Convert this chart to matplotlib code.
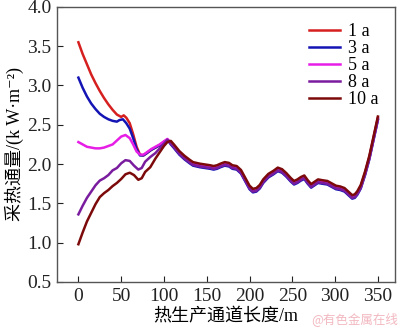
import matplotlib
matplotlib.use("Agg")
import matplotlib.pyplot as plt

SERIF = ["Liberation Serif", "DejaVu Serif"]
MIXED = ["Liberation Serif", "Noto Sans CJK SC", "DejaVu Sans"]
CJK = ["Noto Sans CJK SC", "Liberation Serif"]

# early section, one list per service year (channel length in m, flux in kW/m2)
x_1a = [0, 5, 10, 15, 20, 25, 30, 35, 40, 45, 50, 53, 56, 60, 64, 68, 72, 76, 80, 85, 90, 95, 100, 104]
y_1a = [3.55, 3.40, 3.27, 3.14, 3.03, 2.93, 2.84, 2.76, 2.69, 2.63, 2.60, 2.62, 2.59, 2.52, 2.38, 2.22,
        2.12, 2.11, 2.14, 2.18, 2.21, 2.24, 2.28, 2.31]
x_3a = [0, 5, 10, 15, 20, 25, 30, 35, 40, 45, 48, 52, 56, 60, 64, 68, 72, 76, 80, 85, 90, 95, 100, 104]
y_3a = [3.10, 2.97, 2.86, 2.77, 2.70, 2.64, 2.60, 2.57, 2.55, 2.54, 2.56, 2.57, 2.52, 2.45, 2.33, 2.19,
        2.11, 2.11, 2.14, 2.18, 2.21, 2.24, 2.28, 2.31]
x_5a = [0, 5, 10, 15, 20, 25, 30, 35, 40, 45, 50, 55, 60, 64, 68, 72, 76, 80, 85, 90, 95, 100, 104]
y_5a = [2.28, 2.25, 2.22, 2.21, 2.20, 2.20, 2.21, 2.23, 2.25, 2.30, 2.35, 2.37, 2.33, 2.25, 2.16, 2.12,
        2.12, 2.15, 2.19, 2.22, 2.25, 2.29, 2.32]
x_8a = [0, 5, 10, 15, 20, 25, 30, 35, 40, 45, 50, 55, 60, 65, 70, 74, 78, 84, 90, 95, 100, 104]
y_8a = [1.36, 1.47, 1.57, 1.65, 1.73, 1.79, 1.82, 1.86, 1.92, 1.95, 2.01, 2.05, 2.04, 1.98, 1.93, 1.95,
        2.03, 2.09, 2.14, 2.20, 2.26, 2.31]
x_10a = [0, 5, 10, 15, 20, 25, 30, 35, 40, 45, 50, 55, 60, 65, 70, 74, 78, 84, 90, 95, 100, 104]
y_10a = [0.98, 1.13, 1.27, 1.38, 1.49, 1.58, 1.63, 1.67, 1.72, 1.76, 1.81, 1.87, 1.89, 1.86, 1.80, 1.82,
         1.90, 1.96, 2.07, 2.15, 2.23, 2.28]

# downstream section where all years run together
x_tail = [108, 112, 118, 124, 130, 134, 138, 142, 148, 154, 158, 162, 166, 171, 176, 180, 185, 190, 195,
          200, 204, 208, 212, 216, 222, 228, 233, 238, 243, 248, 252, 256, 260, 264, 268, 272, 276, 280,
          285, 291, 296, 301, 306, 311, 316, 320, 323, 326, 330, 335, 340, 345, 350]
y_tail = [2.27, 2.22, 2.14, 2.08, 2.03, 2.00, 1.99, 1.98, 1.97, 1.96, 1.95, 1.96, 1.98, 2.00, 1.99, 1.96,
          1.95, 1.90, 1.80, 1.70, 1.66, 1.67, 1.71, 1.78, 1.85, 1.89, 1.93, 1.91, 1.86, 1.80, 1.76, 1.78,
          1.81, 1.83, 1.77, 1.72, 1.75, 1.78, 1.77, 1.76, 1.73, 1.70, 1.69, 1.67, 1.62, 1.58, 1.59, 1.63,
          1.71, 1.88, 2.08, 2.33, 2.58]
tail_shift = [0.01, -0.02, 0.0, -0.01, 0.025]

labels = ["1 a", "3 a", "5 a", "8 a", "10 a"]
colors = ["#d61f1f", "#1414b4", "#e61ee6", "#7a1c9e", "#7d0a0a"]
heads = [(x_1a, y_1a), (x_3a, y_3a), (x_5a, y_5a), (x_8a, y_8a), (x_10a, y_10a)]

x_ticks = [0, 50, 100, 150, 200, 250, 300, 350]
y_ticks = [0.5, 1.0, 1.5, 2.0, 2.5, 3.0, 3.5, 4.0]

fig = plt.figure(figsize=(4.0, 3.29), dpi=100)
ax = fig.add_axes([0.1425, 0.143, 0.845, 0.836])

for (hx, hy), shift, lab, col in zip(heads, tail_shift, labels, colors):
    xs = hx + x_tail
    ys = hy + [v + shift for v in y_tail]
    ax.plot(xs, ys, color=col, lw=1.8, label=lab)

ax.set_xlim(-25, 370)
ax.set_ylim(0.5, 4.0)
ax.set_xticks(x_ticks)
ax.set_yticks(y_ticks)
ax.set_yticklabels([f"{v:.1f}" for v in y_ticks])
ax.tick_params(direction="in", length=4, width=0.8, colors="#222222", labelsize=14, pad=4)
for lbl in ax.get_xticklabels() + ax.get_yticklabels():
    lbl.set_family(SERIF)
for sp in ax.spines.values():
    sp.set_color("#555555")
    sp.set_linewidth(1.0)

ax.set_xlabel("热生产通道长度/m", family=MIXED, fontsize=13, labelpad=3)
ax.set_ylabel("采热通量/(k W·m⁻²)", family=MIXED, fontsize=13, labelpad=2)

leg = ax.legend(loc="upper right", frameon=False, prop={"family": SERIF, "size": 13},
                handlelength=1.75, handletextpad=0.45, labelspacing=0.0,
                borderaxespad=0.5)

fig.text(0.995, 0.01, "@有色金属在线", family=CJK, fontsize=9, color="#f2b8c0",
         ha="right", va="bottom")

fig.savefig("out.png", dpi=100)
